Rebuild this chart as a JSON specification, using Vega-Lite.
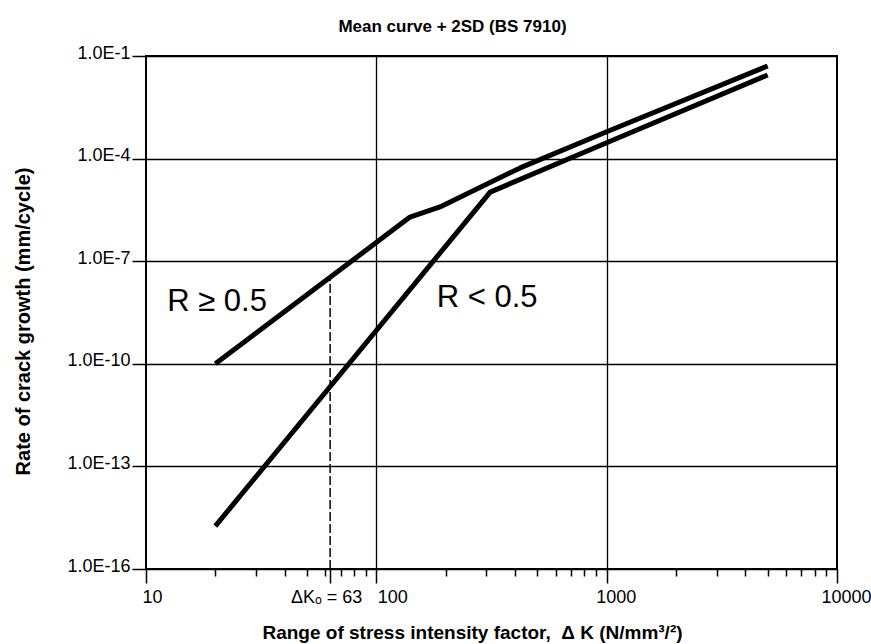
{
  "$schema": "https://vega.github.io/schema/vega-lite/v6.json",
  "autosize": "none",
  "width": 691,
  "height": 513,
  "padding": {"left": 146, "top": 56, "right": 34, "bottom": 75},
  "background": "white",
  "config": {
    "view": {"stroke": "black", "strokeWidth": 2},
    "font": "Liberation Sans"
  },
  "title": {
    "text": "Mean curve + 2SD (BS 7910)",
    "font": "Liberation Sans",
    "fontSize": 17,
    "fontWeight": "bold",
    "color": "black",
    "anchor": "middle",
    "frame": "group",
    "dx": -39,
    "dy": 27,
    "baseline": "alphabetic",
    "offset": 22
  },
  "datasets": {
    "curves": [
      {"dK": 20, "rate": 1.0e-10, "series": "R >= 0.5", "ord": 1},
      {"dK": 140, "rate": 1.95e-6, "series": "R >= 0.5", "ord": 2},
      {"dK": 189, "rate": 3.85e-6, "series": "R >= 0.5", "ord": 3},
      {"dK": 421, "rate": 5.35e-5, "series": "R >= 0.5", "ord": 4},
      {"dK": 1000, "rate": 6.1e-4, "series": "R >= 0.5", "ord": 5},
      {"dK": 5000, "rate": 0.051, "series": "R >= 0.5", "ord": 6},
      {"dK": 20, "rate": 1.8e-15, "series": "R < 0.5", "ord": 1},
      {"dK": 312, "rate": 1.05e-5, "series": "R < 0.5", "ord": 2},
      {"dK": 1000, "rate": 2.9e-4, "series": "R < 0.5", "ord": 3},
      {"dK": 5000, "rate": 0.0278, "series": "R < 0.5", "ord": 4}
    ],
    "threshold": [
      {"dK": 63, "low": 1e-16, "high": 3.3e-8}
    ],
    "labels": [
      {"dK": 33.5, "rate": 3.5e-9, "text": "R ≥ 0.5", "side": "right"},
      {"dK": 183, "rate": 4.7e-9, "text": "R < 0.5", "side": "left"}
    ]
  },
  "layer": [
    {
      "data": {"name": "threshold"},
      "mark": {"type": "rule", "color": "black", "strokeWidth": 1.5, "strokeDash": [9, 3]},
      "encoding": {
        "x": {
          "field": "dK", "type": "quantitative",
          "scale": {"type": "log", "domain": [10, 10000], "nice": false},
          "axis": {
            "values": [10, 20, 30, 40, 50, 60, 63, 70, 80, 90, 100, 200, 300, 400, 500, 600, 700, 800, 900, 1000, 2000, 3000, 4000, 5000, 6000, 7000, 8000, 9000, 10000],
            "labelExpr": "datum.value == 63 ? 'ΔKₒ = 63' : (indexof([10, 100, 1000, 10000], datum.value) >= 0 ? format(datum.value, 'd') : '')",
            "labelOverlap": false,
            "labelFlush": false,
            "labelBound": false,
            "labelFont": "Liberation Sans",
            "labelFontSize": 18,
            "labelColor": "black",
            "labelPadding": 5,
            "labelOffset": {"condition": [
              {"test": "datum.value == 100", "value": 16},
              {"test": "datum.value == 63", "value": -4},
              {"test": "datum.value == 10", "value": 6}
            ], "value": 9},
            "domain": false,
            "ticks": true,
            "tickColor": "black",
            "tickWidth": 1.5,
            "tickSize": {"condition": {"test": "indexof([10, 63, 100, 1000, 10000], datum.value) >= 0", "value": 14}, "value": 7},
            "grid": true,
            "gridColor": "black",
            "gridWidth": 1.3,
            "gridOpacity": {"condition": {"test": "datum.value == 100 || datum.value == 1000", "value": 1}, "value": 0},
            "title": "Range of stress intensity factor, \u00a0Δ K (N/mm³/²)",
            "titleFont": "Liberation Sans",
            "titleFontSize": 19,
            "titleFontWeight": "bold",
            "titleColor": "black",
            "titleAlign": "center",
            "titleBaseline": "alphabetic",
            "titleX": 326,
            "titleY": 69
          }
        },
        "y": {
          "field": "low", "type": "quantitative",
          "scale": {"type": "log", "domain": [1e-16, 0.1], "nice": false},
          "axis": {
            "values": [1e-16, 1e-13, 1e-10, 1e-7, 1e-4, 0.1],
            "labelExpr": "'1.0E' + round(log(datum.value) / LN10)",
            "labelFont": "Liberation Sans",
            "labelFontSize": 18,
            "labelColor": "black",
            "labelPadding": 2,
            "labelBaseline": "middle",
            "labelOffset": -3,
            "labelOverlap": false,
            "labelFlush": false,
            "labelBound": false,
            "domain": false,
            "tickColor": "black",
            "tickWidth": 1.5,
            "tickSize": 14,
            "grid": true,
            "gridColor": "black",
            "gridWidth": 1.3,
            "title": "Rate of crack growth (mm/cycle)",
            "titleFont": "Liberation Sans",
            "titleFontSize": 20,
            "titleFontWeight": "bold",
            "titleColor": "black",
            "titleAngle": 270,
            "titleAlign": "center",
            "titleBaseline": "middle",
            "titleX": -123,
            "titleY": 265
          }
        },
        "y2": {"field": "high"}
      }
    },
    {
      "data": {"name": "curves"},
      "mark": {"type": "line", "color": "black", "strokeWidth": 5, "strokeCap": "butt", "strokeJoin": "round"},
      "encoding": {
        "x": {"field": "dK", "type": "quantitative"},
        "y": {"field": "rate", "type": "quantitative"},
        "detail": {"field": "series"},
        "order": {"field": "ord", "type": "quantitative"}
      }
    },
    {
      "data": {"name": "labels"},
      "transform": [{"filter": "datum.side == 'right'"}],
      "mark": {"type": "text", "align": "right", "baseline": "alphabetic", "fontSize": 31, "font": "Liberation Sans", "color": "black"},
      "encoding": {
        "x": {"field": "dK", "type": "quantitative"},
        "y": {"field": "rate", "type": "quantitative"},
        "text": {"field": "text"}
      }
    },
    {
      "data": {"name": "labels"},
      "transform": [{"filter": "datum.side == 'left'"}],
      "mark": {"type": "text", "align": "left", "baseline": "alphabetic", "fontSize": 31, "font": "Liberation Sans", "color": "black"},
      "encoding": {
        "x": {"field": "dK", "type": "quantitative"},
        "y": {"field": "rate", "type": "quantitative"},
        "text": {"field": "text"}
      }
    }
  ]
}
